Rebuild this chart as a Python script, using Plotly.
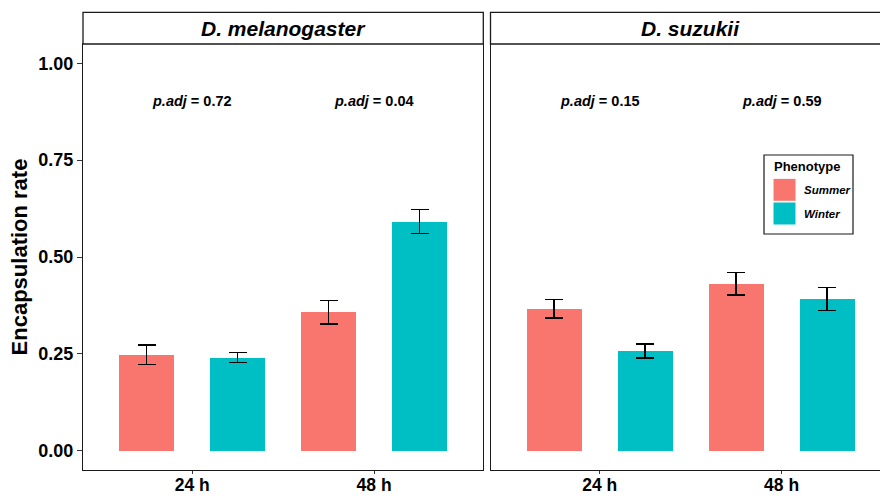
import plotly.graph_objects as go

# ---- data ----
species = ["D. melanogaster", "D. suzukii"]
times = ["24 h", "48 h"]
phenotypes = ["Summer", "Winter"]
colors = {"Summer": "#F8766D", "Winter": "#00BFC4"}

mel_summer = [0.248, 0.357]
mel_summer_se = [0.025, 0.030]
mel_winter = [0.240, 0.591]
mel_winter_se = [0.013, 0.031]
suz_summer = [0.367, 0.431]
suz_summer_se = [0.024, 0.029]
suz_winter = [0.257, 0.392]
suz_winter_se = [0.018, 0.030]

mel_padj = ["0.72", "0.04"]
suz_padj = ["0.15", "0.59"]

y_ticks = [0.0, 0.25, 0.5, 0.75, 1.0]
y_ticktext = ["0.00", "0.25", "0.50", "0.75", "1.00"]

# ---- layout geometry ----
W, H = 880, 496
ML, MR, MT, MB = 83, 0, 44, 26
PW = W - ML - MR
PH = H - MT - MB
FONT = "Liberation Sans, Arial, sans-serif"
LINE = "#1a1a1a"


def px(x):
    return (x - ML) / PW


def py(y):
    return (H - MB - y) / PH


dom1 = [0.0, px(483.3)]
dom2 = [px(490.5), 1.0]
unit = (483.3 - 83) / 2.2
xr2 = [0.4, 0.4 + (880 - 490.5) / unit]

fig = go.Figure()

panels = [
    ("x", "y", mel_summer, mel_summer_se, mel_winter, mel_winter_se),
    ("x2", "y2", suz_summer, suz_summer_se, suz_winter, suz_winter_se),
]
xpos = [1, 2]
offsets = {"Summer": -0.25, "Winter": 0.25}
for xa, ya, s, sse, w, wse in panels:
    for ph, vals, se in (("Summer", s, sse), ("Winter", w, wse)):
        fig.add_trace(go.Bar(
            x=[p + offsets[ph] for p in xpos], y=vals, width=0.305,
            marker=dict(color=colors[ph], line=dict(width=0)),
            error_y=dict(type="data", array=se, visible=True,
                         color="black", thickness=1.4, width=9),
            xaxis=xa, yaxis=ya, showlegend=False, name=ph,
        ))

axis_common = dict(
    showline=True, linecolor=LINE, linewidth=1.3, showgrid=False,
    zeroline=False, ticks="outside", tickcolor="#333333", tickwidth=1.2,
    automargin=False,
)
xtickfont = dict(size=17.5, family=FONT, weight="bold")
fig.update_layout(
    width=W, height=H, margin=dict(l=ML, r=MR, t=MT, b=MB, autoexpand=False),
    plot_bgcolor="white", paper_bgcolor="white",
    font=dict(family=FONT, color="black"),
    bargap=0,
    xaxis=dict(domain=dom1, range=[0.4, 2.6], tickvals=xpos, ticktext=times,
               mirror=True, ticklen=3, ticklabelstandoff=-4,
               tickfont=xtickfont, **axis_common),
    xaxis2=dict(domain=dom2, range=xr2, tickvals=xpos, ticktext=times,
                mirror=True, ticklen=3, anchor="y2", ticklabelstandoff=-4,
                tickfont=xtickfont, **axis_common),
    yaxis=dict(domain=[0, 1], range=[-0.05, 1.05], tickvals=y_ticks,
               ticktext=y_ticktext, mirror=True, ticklen=5,
               tickfont=dict(size=18, family=FONT, weight="bold"),
               title=dict(text="<b>Encapsulation rate</b>", standoff=4,
                          font=dict(size=22, family=FONT)),
               **axis_common),
    yaxis2=dict(domain=[0, 1], range=[-0.05, 1.05], anchor="x2",
                showline=True, linecolor=LINE, linewidth=1.3, showgrid=False,
                zeroline=False, showticklabels=False, ticks="", automargin=False),
)

# strips
strip_top = py(12.3)
fig.add_shape(type="rect", xref="paper", yref="paper", x0=dom1[0], x1=dom1[1],
              y0=1, y1=strip_top, line=dict(color=LINE, width=1.3),
              fillcolor="white", layer="above")
fig.add_shape(type="rect", xref="paper", yref="paper", x0=dom2[0], x1=1.03,
              y0=1, y1=strip_top, line=dict(color=LINE, width=1.3),
              fillcolor="white", layer="above")
strip_y = (1 + strip_top) / 2
fig.add_annotation(text="<b><i>%s</i></b>" % species[0], xref="paper", yref="paper",
                   x=px(283.2), y=strip_y, showarrow=False,
                   font=dict(size=21, family=FONT), xanchor="center", yanchor="middle")
fig.add_annotation(text="<b><i>%s</i></b>" % species[1], xref="paper", yref="paper",
                   x=px(690.5), y=strip_y, showarrow=False,
                   font=dict(size=21, family=FONT), xanchor="center", yanchor="middle")

# p.adj labels
for xa, ya, labs in (("x", "y", mel_padj), ("x2", "y2", suz_padj)):
    for p, lab in zip(xpos, labs):
        fig.add_annotation(text="<b><i>p.adj</i> = %s</b>" % lab, xref=xa, yref=ya,
                           x=p, y=0.904, showarrow=False,
                           font=dict(size=14.5, family=FONT),
                           xanchor="center", yanchor="middle")

# legend (manual)
fig.add_shape(type="rect", xref="paper", yref="paper", x0=px(764), x1=px(853),
              y0=py(234), y1=py(155), line=dict(color=LINE, width=1.2),
              fillcolor="white", layer="above")
fig.add_annotation(text="<b>Phenotype</b>", xref="paper", yref="paper",
                   x=px(772), y=py(167), showarrow=False, xanchor="left",
                   yanchor="middle", font=dict(size=13, family=FONT))
key_tops = [178.3, 202.0]
for ph, top in zip(phenotypes, key_tops):
    fig.add_shape(type="rect", xref="paper", yref="paper", x0=px(773), x1=px(796),
                  y0=py(top + 23), y1=py(top), line=dict(color="white", width=1),
                  fillcolor=colors[ph], layer="above")
    fig.add_annotation(text="<b><i>%s</i></b>" % ph, xref="paper", yref="paper",
                       x=px(802), y=py(top + 11.5), showarrow=False, xanchor="left",
                       yanchor="middle", font=dict(size=11.5, family=FONT))

fig.write_html(
    "out.html",
    config={"displayModeBar": False},
    post_script="document.body.style.margin='0';document.body.style.overflow='hidden';",
)
